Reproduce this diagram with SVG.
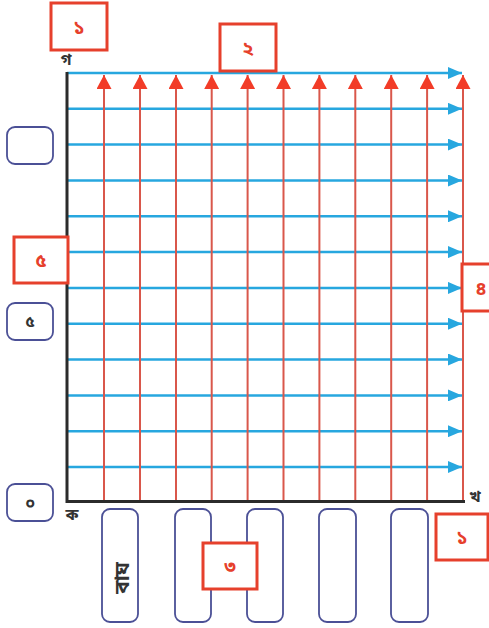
<svg xmlns="http://www.w3.org/2000/svg" width="489" height="628" viewBox="0 0 489 628">
<style>
.blue{stroke:#27a7df;stroke-width:2.5;fill:none}
.red{stroke:#d9574b;stroke-width:2;fill:none}
.axis{stroke:#2b2b2b;stroke-width:3;fill:none}
.rbox{fill:#fff;stroke:#e6402c;stroke-width:3}
.pbox{fill:#fff;stroke:#4b5096;stroke-width:1.8}
.rt{font-family:"Noto Sans","Noto Sans Bengali",sans-serif;font-size:19px;font-weight:bold;fill:#e6402c;text-anchor:middle;dominant-baseline:central}
.dt{font-family:"Noto Sans","Noto Sans Bengali",sans-serif;font-size:16px;font-weight:bold;fill:#333;text-anchor:middle;dominant-baseline:central}
</style>
<defs>
<marker id="ab" markerUnits="userSpaceOnUse" markerWidth="14" markerHeight="12" refX="14" refY="6" orient="auto" viewBox="0 0 14 12"><path d="M0,0L14,6L0,12Z" fill="#27a7df"/></marker>
<marker id="ar" markerUnits="userSpaceOnUse" markerWidth="14" markerHeight="15" refX="14" refY="7.5" orient="auto" viewBox="0 0 14 15"><path d="M0,0L14,7.5L0,15Z" fill="#f23c28"/></marker>
</defs>
<rect width="489" height="628" fill="#fff"/>
<g id="connectors">
<line class="blue" marker-end="url(#ab)" x1="67" y1="73" x2="462" y2="73"/>
<line class="blue" marker-end="url(#ab)" x1="67" y1="108.8" x2="462" y2="108.8"/>
<line class="blue" marker-end="url(#ab)" x1="67" y1="144.6" x2="462" y2="144.6"/>
<line class="blue" marker-end="url(#ab)" x1="67" y1="180.5" x2="462" y2="180.5"/>
<line class="blue" marker-end="url(#ab)" x1="67" y1="216.3" x2="462" y2="216.3"/>
<line class="blue" marker-end="url(#ab)" x1="67" y1="252.1" x2="462" y2="252.1"/>
<line class="blue" marker-end="url(#ab)" x1="67" y1="287.9" x2="462" y2="287.9"/>
<line class="blue" marker-end="url(#ab)" x1="67" y1="323.7" x2="462" y2="323.7"/>
<line class="blue" marker-end="url(#ab)" x1="67" y1="359.5" x2="462" y2="359.5"/>
<line class="blue" marker-end="url(#ab)" x1="67" y1="395.4" x2="462" y2="395.4"/>
<line class="blue" marker-end="url(#ab)" x1="67" y1="431.2" x2="462" y2="431.2"/>
<line class="blue" marker-end="url(#ab)" x1="67" y1="467" x2="462" y2="467"/>
<line class="red" marker-end="url(#ar)" x1="104" y1="500" x2="104" y2="75"/>
<line class="red" marker-end="url(#ar)" x1="140" y1="500" x2="140" y2="75"/>
<line class="red" marker-end="url(#ar)" x1="176" y1="500" x2="176" y2="75"/>
<line class="red" marker-end="url(#ar)" x1="211.7" y1="500" x2="211.7" y2="75"/>
<line class="red" marker-end="url(#ar)" x1="247.6" y1="500" x2="247.6" y2="75"/>
<line class="red" marker-end="url(#ar)" x1="283.5" y1="500" x2="283.5" y2="75"/>
<line class="red" marker-end="url(#ar)" x1="319.4" y1="500" x2="319.4" y2="75"/>
<line class="red" marker-end="url(#ar)" x1="355.3" y1="500" x2="355.3" y2="75"/>
<line class="red" marker-end="url(#ar)" x1="391.2" y1="500" x2="391.2" y2="75"/>
<line class="red" marker-end="url(#ar)" x1="427.1" y1="500" x2="427.1" y2="75"/>
<line class="red" marker-end="url(#ar)" x1="463" y1="500" x2="463" y2="75"/>
<path class="axis" d="M67,72V501.5H465"/>
</g>
<g id="label-ga"><text class="dt" x="66" y="59">গ</text></g>
<g id="label-ka"><text class="dt" x="72" y="514">ক</text></g>
<g id="label-kha"><text class="dt" x="475" y="496">খ</text></g>
<g id="pbox-empty"><rect class="pbox" x="7" y="127" width="46" height="37" rx="8"/></g>
<g id="pbox-5"><rect class="pbox" x="7" y="303" width="46" height="37" rx="8"/><text class="dt" x="30" y="321">৫</text></g>
<g id="pbox-0"><rect class="pbox" x="7" y="484" width="46" height="37" rx="8"/><text class="dt" x="30" y="503">০</text></g>
<g id="col1"><rect class="pbox" x="102" y="509" width="36" height="113" rx="8"/><text class="dt" style="font-size:21px" transform="translate(121,578) rotate(-90)" x="0" y="0">বাঘ</text></g>
<g id="col2"><rect class="pbox" x="175" y="509" width="36" height="113" rx="8"/></g>
<g id="col3"><rect class="pbox" x="247" y="509" width="36" height="113" rx="8"/></g>
<g id="col4"><rect class="pbox" x="319" y="509" width="37" height="113" rx="8"/></g>
<g id="col5"><rect class="pbox" x="391" y="509" width="37" height="113" rx="8"/></g>
<g id="box1-top"><rect class="rbox" x="51" y="3" width="56" height="47"/><text class="rt" x="79" y="27">১</text></g>
<g id="box2"><rect class="rbox" x="220" y="24" width="56" height="47"/><text class="rt" x="248" y="48">২</text></g>
<g id="box5-red"><rect class="rbox" x="14" y="237" width="54" height="46"/><text class="rt" x="41" y="260">৫</text></g>
<g id="box4"><rect class="rbox" x="462" y="264" width="40" height="47"/><text class="rt" x="481" y="288">৪</text></g>
<g id="box3"><rect class="rbox" x="203" y="543" width="54" height="46"/><text class="rt" x="230" y="566">৩</text></g>
<g id="box1-bottom"><rect class="rbox" x="436" y="514" width="52" height="46"/><text class="rt" x="462" y="537">১</text></g>
</svg>
